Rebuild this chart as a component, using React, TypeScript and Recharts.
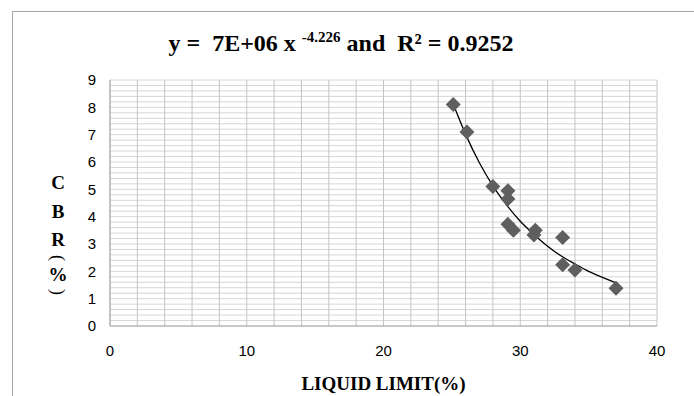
import React from "react";
import {
  ComposedChart,
  Scatter,
  Line,
  XAxis,
  YAxis,
  CartesianGrid,
  Label,
} from "recharts";

// measured points: liquid limit (%) vs CBR (%)
const liquidLimit = [25.1, 26.1, 28.0, 29.1, 29.1, 29.1, 29.5, 31.1, 31.0, 33.1, 33.1, 34.0, 37.0];
const cbr = [8.1, 7.1, 5.1, 4.95, 4.65, 3.72, 3.5, 3.5, 3.33, 3.24, 2.24, 2.05, 1.38];

// power trendline
const trendX = [25, 26, 27, 28, 29, 30, 31, 32, 33, 34, 35, 36, 37];
const trendY = [8.25, 7.02, 5.98, 5.13, 4.43, 3.83, 3.35, 2.92, 2.56, 2.27, 2.0, 1.78, 1.58];

const xTicks = [0, 10, 20, 30, 40];
const yTicks = [0, 1, 2, 3, 4, 5, 6, 7, 8, 9];

const points = liquidLimit.map((x, i) => ({ x, y: cbr[i] }));
const trend = trendX.map((x, i) => ({ x, t: trendY[i] }));

const vGrid = Array.from({ length: 21 }, (_, i) => i * 2);
const hGrid = Array.from({ length: 46 }, (_, i) => Math.round(i * 2) / 10);

const serif = "'Liberation Serif', 'Times New Roman', serif";
const sans = "'Liberation Sans', Arial, sans-serif";

const Diamond = (props: any) => {
  const { cx, cy } = props;
  if (cx == null || cy == null) return null;
  const r = 7.5;
  return (
    <polygon
      points={`${cx},${cy - r} ${cx + r},${cy} ${cx},${cy + r} ${cx - r},${cy}`}
      fill="#5f5f5f"
    />
  );
};

// stacked vertical title, brackets turned sideways like Excel does
const YLabel = () => {
  const x = 58;
  const style = { fontFamily: serif, fontWeight: 700, fontSize: 19, fill: "#000" };
  const paren = { fontFamily: serif, fontSize: 18, fill: "#000" };
  return (
    <g>
      <text x={x} y={189} textAnchor="middle" {...style}>C</text>
      <text x={x} y={218} textAnchor="middle" {...style}>B</text>
      <text x={x} y={246} textAnchor="middle" {...style}>R</text>
      <g transform={`translate(${x} 258) rotate(90)`}>
        <text x={0} y={0} textAnchor="middle" dominantBaseline="central" {...paren}>(</text>
      </g>
      <text x={x} y={281} textAnchor="middle" {...style}>%</text>
      <g transform={`translate(${x} 292) rotate(90)`}>
        <text x={0} y={0} textAnchor="middle" dominantBaseline="central" {...paren}>)</text>
      </g>
    </g>
  );
};

export default function App() {
  return (
    <div style={{ position: "absolute", left: 0, top: 0, width: 694, height: 396, overflow: "hidden", background: "#fff" }}>
      <div
        style={{
          position: "absolute",
          left: 12,
          top: 11,
          width: 720,
          height: 420,
          border: "1px solid #a6a6a6",
        }}
      />
      <div
        style={{
          position: "absolute",
          left: 0,
          top: 29,
          width: 682,
          textAlign: "center",
          fontFamily: serif,
          fontWeight: 700,
          fontSize: 24,
          color: "#000",
          whiteSpace: "pre",
        }}
      >
        {"y =  7E+06 x "}
        <span style={{ fontSize: 15, verticalAlign: 9 }}>-4.226</span>
        {" and  R² = 0.9252"}
      </div>
      <div style={{ position: "absolute", left: 0, top: 0 }}>
        <ComposedChart
          width={694}
          height={396}
          margin={{ top: 80, right: 37, bottom: 40, left: 80 }}
        >
          <CartesianGrid
            stroke="#d6d6d6"
            vertical={false}
            horizontalValues={hGrid}
          />
          <CartesianGrid
            stroke="#c4c4c4"
            horizontal={false}
            verticalValues={vGrid}
          />
          <XAxis
            type="number"
            dataKey="x"
            domain={[0, 40]}
            ticks={xTicks}
            interval={0}
            height={30}
            axisLine={{ stroke: "#a6a6a6" }}
            tickLine={false}
            tickSize={0}
            tickMargin={19}
            tick={{ fill: "#000", fontFamily: sans, fontSize: 15 }}
            allowDataOverflow
          >
            <Label
              value="LIQUID LIMIT(%)"
              position="insideBottom"
              offset={-34}
              style={{ fontFamily: serif, fontWeight: 700, fontSize: 19, fill: "#000" }}
            />
          </XAxis>
          <YAxis
            type="number"
            domain={[0, 9]}
            ticks={yTicks}
            interval={0}
            width={30}
            axisLine={{ stroke: "#a6a6a6" }}
            tickLine={false}
            tickSize={0}
            tickMargin={14}
            tick={{ fill: "#000", fontFamily: sans, fontSize: 15 }}
            allowDataOverflow
          >
            <Label content={<YLabel />} />
          </YAxis>
          <Scatter
            data={points}
            dataKey="y"
            shape={<Diamond />}
            isAnimationActive={false}
          />
          <Line
            data={trend}
            dataKey="t"
            type="monotone"
            stroke="#000"
            strokeWidth={1.3}
            dot={false}
            activeDot={false}
            isAnimationActive={false}
          />
        </ComposedChart>
      </div>
    </div>
  );
}
